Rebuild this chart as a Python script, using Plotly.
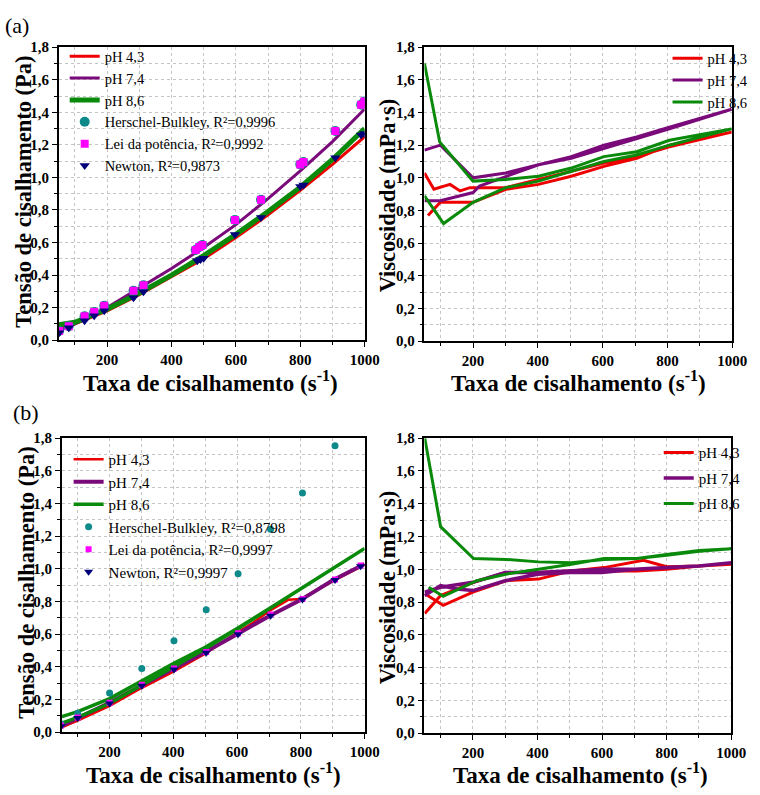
import plotly.graph_objects as go

# ---------------- DATA ----------------
# Panel (a) left: shear stress vs shear rate
a_line_x = [50, 100, 200, 300, 400, 500, 600, 700, 800, 900, 1000]
a_red = [0.07, 0.10, 0.18, 0.28, 0.39, 0.50, 0.63, 0.77, 0.92, 1.08, 1.25]
a_purple = [0.06, 0.10, 0.20, 0.32, 0.44, 0.57, 0.71, 0.87, 1.04, 1.22, 1.42]
a_green = [0.095, 0.11, 0.19, 0.29, 0.40, 0.52, 0.65, 0.79, 0.94, 1.11, 1.30]

a_pts_x = [51, 81, 130, 160, 191, 282, 313, 475, 486, 496, 597, 678, 800, 810, 909, 989, 999]
a_hb = [0.056, 0.086, 0.147, 0.173, 0.211, 0.303, 0.337, 0.554, 0.572, 0.584, 0.739, 0.863, 1.08, 1.094, 1.285, 1.446, 1.466]
a_lp = [0.056, 0.086, 0.147, 0.173, 0.211, 0.303, 0.337, 0.554, 0.572, 0.584, 0.739, 0.863, 1.08, 1.094, 1.285, 1.446, 1.466]
a_newton_x = [51, 81, 130, 160, 191, 282, 313, 480, 490, 500, 597, 678, 800, 810, 909, 989, 999]
a_newton = [0.046, 0.076, 0.12, 0.15, 0.18, 0.26, 0.297, 0.488, 0.496, 0.504, 0.649, 0.753, 0.944, 0.954, 1.12, 1.26, 1.27]

# Panel (a) right: viscosity (up and down curves)
av_red_x = [50, 79, 129, 160, 190, 301, 402, 503, 604, 705, 806, 998, 806, 705, 604, 503, 402, 301, 200, 99, 61]
av_red = [1.03, 0.93, 0.96, 0.92, 0.94, 0.94, 0.99, 1.04, 1.09, 1.13, 1.19, 1.28, 1.20, 1.12, 1.07, 1.01, 0.96, 0.93, 0.85, 0.85, 0.77]
av_purple_x = [50, 99, 200, 301, 402, 503, 604, 705, 806, 897, 998, 806, 705, 604, 503, 402, 301, 220, 200, 99, 50]
av_purple = [1.17, 1.20, 1.00, 1.03, 1.08, 1.13, 1.20, 1.25, 1.31, 1.36, 1.42, 1.30, 1.24, 1.18, 1.12, 1.08, 1.01, 0.95, 0.91, 0.86, 0.86]
av_green_x = [50, 97, 200, 301, 402, 503, 604, 705, 806, 998, 806, 705, 604, 503, 402, 301, 200, 109, 50]
av_green = [1.70, 1.22, 0.98, 0.99, 1.01, 1.06, 1.13, 1.16, 1.23, 1.30, 1.20, 1.14, 1.10, 1.04, 0.98, 0.94, 0.85, 0.72, 0.89]

# Panel (b) left: shear stress vs shear rate
b_red_x = [50, 100, 200, 300, 400, 500, 600, 650, 700, 760, 800, 900, 1000]
b_red = [0.03, 0.07, 0.16, 0.27, 0.37, 0.48, 0.61, 0.67, 0.74, 0.81, 0.815, 0.925, 1.025]
b_purple_x = [50, 100, 200, 300, 400, 500, 600, 700, 800, 900, 1000]
b_purple = [0.04, 0.085, 0.18, 0.285, 0.385, 0.49, 0.60, 0.71, 0.81, 0.93, 1.03]
b_green_x = [50, 100, 200, 300, 400, 500, 600, 700, 800, 900, 1000, 900, 800, 700, 600, 500, 400, 300, 200, 100, 50]
b_green = [0.055, 0.09, 0.175, 0.285, 0.40, 0.51, 0.63, 0.755, 0.877, 1.0, 1.125, 1.0, 0.877, 0.755, 0.635, 0.52, 0.42, 0.31, 0.205, 0.125, 0.095]

b_hb_x = [48, 100, 200, 301, 402, 503, 603, 705, 805, 907]
b_hb = [0.05, 0.116, 0.24, 0.39, 0.56, 0.75, 0.97, 1.242, 1.464, 1.754]
b_pts_x = [48, 100, 200, 301, 402, 503, 603, 705, 805, 907, 987]
b_lp = [0.04, 0.09, 0.18, 0.29, 0.39, 0.49, 0.605, 0.72, 0.815, 0.935, 1.02]
b_newton = [0.036, 0.086, 0.176, 0.284, 0.384, 0.486, 0.60, 0.712, 0.812, 0.932, 1.016]

# Panel (b) right: viscosity
bv_red_x = [51, 100, 202, 302, 403, 505, 606, 708, 800, 901, 1000, 901, 800, 728, 606, 505, 403, 302, 200, 108, 51]
bv_red = [0.73, 0.84, 0.92, 0.98, 0.98, 0.99, 0.99, 0.99, 1.00, 1.02, 1.03, 1.02, 1.015, 1.055, 1.01, 0.99, 0.94, 0.93, 0.86, 0.78, 0.85]
bv_purple_x = [50, 100, 150, 200, 300, 400, 500, 600, 700, 800, 900, 1000, 900, 800, 700, 600, 500, 400, 300, 200, 100, 50]
bv_purple = [0.84, 0.90, 0.88, 0.87, 0.93, 0.97, 0.98, 0.98, 1.00, 1.01, 1.02, 1.04, 1.02, 1.01, 1.00, 1.00, 0.99, 0.98, 0.98, 0.92, 0.89, 0.86]
bv_green_x = [51, 100, 202, 302, 403, 505, 606, 708, 800, 901, 1000, 901, 800, 708, 606, 505, 403, 302, 212, 108, 63]
bv_green = [1.80, 1.26, 1.065, 1.06, 1.045, 1.04, 1.06, 1.065, 1.09, 1.115, 1.125, 1.11, 1.085, 1.065, 1.065, 1.03, 1.00, 0.97, 0.93, 0.835, 0.89]

ph_names = ["pH 4,3", "pH 7,4", "pH 8,6"]
y_ticks = [0.0, 0.2, 0.4, 0.6, 0.8, 1.0, 1.2, 1.4, 1.6, 1.8]
x_ticks = [200, 400, 600, 800, 1000]

# ---------------- STYLE ----------------
RED = "#ee0000"
PURPLE = "#7a0a7a"
GREEN = "#0a8a0a"
TEAL = "#0f8a8a"
MAGENTA = "#ff00ff"
NAVY = "#00007a"
SERIF = "Liberation Serif, Times New Roman, Times, DejaVu Serif, serif"
W, H = 760, 795

fig = go.Figure()

def px_dom(x0, x1, y0, y1):
    return [x0 / W, x1 / W], [1 - y1 / H, 1 - y0 / H]

panels = {
    1: px_dom(60, 372, 40, 339),
    2: px_dom(433, 747, 40, 340),
    3: px_dom(63, 372, 439, 739),
    4: px_dom(433, 746, 439, 740),
}

def line(x, y, color, name, xa, ya, legend, width=3, group=None):
    fig.add_trace(go.Scatter(x=x, y=y, mode="lines", name=name,
                             line=dict(color=color, width=width),
                             xaxis=xa, yaxis=ya, legend=legend,
                             legendgroup=group))

def pts(x, y, color, symbol, size, name, xa, ya, legend):
    fig.add_trace(go.Scatter(x=x, y=y, mode="markers", name=name,
                             marker=dict(color=color, symbol=symbol, size=size,
                                         line=dict(width=0)),
                             xaxis=xa, yaxis=ya, legend=legend))

# (a) left
line(a_line_x, a_red, RED, ph_names[0], "x", "y", "legend", 3)
line(a_line_x, a_purple, PURPLE, ph_names[1], "x", "y", "legend", 3)
line(a_line_x, a_green, GREEN, ph_names[2], "x", "y", "legend", 5)
pts(a_pts_x, a_hb, TEAL, "circle", 10, "Herschel-Bulkley, R²=0,9996", "x", "y", "legend")
pts(a_pts_x, a_lp, MAGENTA, "square", 8, "Lei da potência, R²=0,9992", "x", "y", "legend")
pts(a_newton_x, a_newton, NAVY, "triangle-down", 9, "Newton, R²=0,9873", "x", "y", "legend")

# (a) right
line(av_red_x, av_red, RED, ph_names[0], "x2", "y2", "legend2", 3)
line(av_purple_x, av_purple, PURPLE, ph_names[1], "x2", "y2", "legend2", 3)
line(av_green_x, av_green, GREEN, ph_names[2], "x2", "y2", "legend2", 3)

# (b) left
line(b_red_x, b_red, RED, ph_names[0], "x3", "y3", "legend3", 2.5)
line(b_purple_x, b_purple, PURPLE, ph_names[1], "x3", "y3", "legend3", 4)
line(b_green_x, b_green, GREEN, ph_names[2], "x3", "y3", "legend3", 3.5)
pts(b_hb_x, b_hb, TEAL, "circle", 7, "Herschel-Bulkley, R²=0,8798", "x3", "y3", "legend3")
pts(b_pts_x, b_lp, MAGENTA, "square", 6, "Lei da potência, R²=0,9997", "x3", "y3", "legend3")
pts(b_pts_x, b_newton, NAVY, "triangle-down", 8, "Newton, R²=0,9997", "x3", "y3", "legend3")

# (b) right
line(bv_red_x, bv_red, RED, ph_names[0], "x4", "y4", "legend4", 3, "r4")
line(bv_purple_x, bv_purple, PURPLE, ph_names[1], "x4", "y4", "legend4", 3.5, "p4")
line(bv_green_x, bv_green, GREEN, ph_names[2], "x4", "y4", "legend4", 3, "g4")

tickfont = dict(family=SERIF, size=15, color="black", weight="bold")
grid = dict(showgrid=True, gridcolor="#c4c4c4", griddash="dot", gridwidth=1)

layout = dict(width=W, height=H, margin=dict(l=0, r=0, t=0, b=0),
              paper_bgcolor="white", plot_bgcolor="white", separators=",.",
              font=dict(family=SERIF, color="black"))

for i, (xd, yd) in panels.items():
    sx = "" if i == 1 else str(i)
    layout["xaxis" + sx] = dict(
        domain=xd, anchor="y" + sx, range=[50, 1000],
        tickmode="array", tickvals=x_ticks, ticktext=[str(v) for v in x_ticks],
        ticks="outside", ticklen=5, tickwidth=1.2, tickcolor="black",
        showline=True, linecolor="black", linewidth=1.5, mirror=True,
        tickfont=tickfont, zeroline=False, **grid,
        minor=dict(tickmode="linear", tick0=0, dtick=100, ticks="outside", ticklen=3,
                   tickcolor="black", **grid))
    layout["yaxis" + sx] = dict(
        domain=yd, anchor="x" + sx, range=[0, 1.8],
        tickmode="array", tickvals=y_ticks, tickformat=".1f",
        ticks="outside", ticklen=5, tickwidth=1.2, tickcolor="black",
        showline=True, linecolor="black", linewidth=1.5, mirror=True,
        tickfont=tickfont, zeroline=False, **grid,
        minor=dict(tickmode="linear", tick0=0, dtick=0.1, ticks="outside", ticklen=3,
                   tickcolor="black", **grid))

def leg(xp, yp, size=14.5, gap=0):
    return dict(x=xp / W, y=1 - yp / H, xanchor="left", yanchor="top",
                bgcolor="rgba(0,0,0,0)", font=dict(family=SERIF, size=size, color="black"),
                tracegroupgap=gap, itemwidth=30, borderwidth=0)

layout["legend"] = leg(66, 33)
layout["legend2"] = leg(681, 35)
layout["legend3"] = leg(70, 444, 15)
layout["legend4"] = leg(672, 437, 15, 3)

fig.update_layout(**layout)

ann = []
def txt(xp, yp, text, size=23, angle=0, bold=True):
    f = dict(family=SERIF, size=size, color="black", weight="bold" if bold else "normal")
    ann.append(dict(x=xp / W, y=1 - yp / H, xref="paper", yref="paper", text=text,
                    showarrow=False, textangle=angle, font=f,
                    xanchor="center", yanchor="middle"))

xt = "Taxa de cisalhamento (s<sup>-1</sup>)"
txt(215, 381, xt, 23)
txt(218, 781, xt, 23)
txt(590, 381, xt, 23)
txt(592, 781, xt, 23)
txt(24, 188, "Tensão de cisalhamento (Pa)", 22.5, angle=-90)
txt(27, 586, "Tensão de cisalhamento (Pa)", 22.5, angle=-90)
txt(395, 191, "Viscosidade (mPa·s)", 22.5, angle=-90)
txt(395, 591, "Viscosidade (mPa·s)", 22.5, angle=-90)
txt(17, 18, "(a)", size=22, bold=False)
txt(27, 413, "(b)", size=22, bold=False)
fig.update_layout(annotations=ann)

fig.write_html("out.html")
